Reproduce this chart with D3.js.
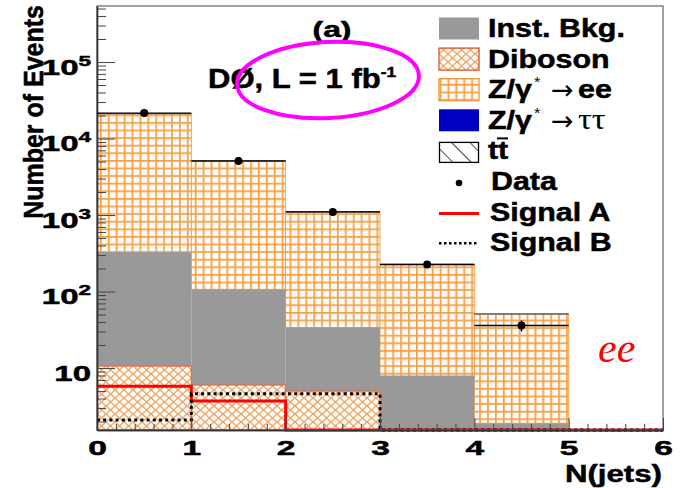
<!DOCTYPE html>
<html>
<head>
<meta charset="utf-8">
<script src="https://cdn.jsdelivr.net/npm/d3@7"></script>
<style>
  html, body { margin: 0; padding: 0; background: #fff; }
  svg { display: block; font-family: "Liberation Sans", Arial, Helvetica, sans-serif; }
</style>
</head>
<body>
<svg id="chart" width="685" height="488"></svg>
<script>
// ---- N(jets) distribution, ee channel ----
const binEdges    = [0, 1, 2, 3, 4, 5, 6];
const xTickLabels = ["0", "1", "2", "3", "4", "5", "6"];
const yMajorTicks = [10, 100, 1000, 10000, 100000];
const yTickExponents = [1, 2, 3, 4, 5];

// stacked backgrounds (events per bin), bottom to top
const diboson = [10.6, 6.0, 5.0, 0, 0, 0];
const instBkg = [317, 101, 29, 7.9, 1.9, 0];
const zTauTau = [0, 0, 0, 0, 0, 0];
const ttbar   = [0, 0, 0, 0, 0, 0];
const zee     = [20900, 4970, 1070, 221, 49, 0];

// observed events and signal hypotheses
const dataCounts = [21500, 5100, 1100, 225, 36, 0];
const signalA    = [5.8, 3.7, 0, 0, 0, 0];
const signalB    = [2.1, 4.6, 4.6, 0, 0, 0];

const legendLabels = ["Inst. Bkg.", "Diboson", "Z/γ", "Z/γ", "tt", "Data", "Signal A", "Signal B"];

// ---- geometry ----
const X0 = 97, X1 = 663, Y0 = 430, Y1 = 6;
const yMin = 1.55, yMax = 5.4e5;
const x = d3.scaleLinear().domain([0, 6]).range([X0, X1]);
const y = d3.scaleLog().domain([yMin, yMax]).range([Y0, Y1]).clamp(true);
const yv = v => y(v > 0 ? v : yMin);

const svg = d3.select("#chart");
const defs = svg.append("defs");

// orange grid fill for Z/γ* -> ee
const pg = defs.append("pattern").attr("id", "zeeGrid")
  .attr("patternUnits", "userSpaceOnUse").attr("width", 7.9).attr("height", 7.6)
  .attr("x", X0 + 3).attr("y", Y1 + 2);
pg.append("rect").attr("width", 7.9).attr("height", 7.6).attr("fill", "#fffaf1");
pg.append("rect").attr("width", 1.7).attr("height", 7.6).attr("fill", "#f2a04c");
pg.append("rect").attr("width", 7.9).attr("height", 1.7).attr("fill", "#f2a04c");

// cross-hatch fill for diboson
const pc = defs.append("pattern").attr("id", "dibosonHatch")
  .attr("patternUnits", "userSpaceOnUse").attr("width", 9).attr("height", 8)
  .attr("x", X0).attr("y", Y0);
pc.append("rect").attr("width", 9).attr("height", 8).attr("fill", "#fffdf9");
pc.append("path").attr("d", "M-1,-0.89L10,8.89M10,-0.89L-1,8.89")
  .attr("stroke", "#ef9f5c").attr("stroke-width", 1.3);

// single-direction hatch for ttbar
const pt = defs.append("pattern").attr("id", "ttHatch")
  .attr("patternUnits", "userSpaceOnUse").attr("width", 13).attr("height", 13)
  .attr("x", 439).attr("y", 4)
  .attr("patternTransform", "rotate(-45)");
pt.append("rect").attr("width", 13).attr("height", 13).attr("fill", "#fff");
pt.append("line").attr("x1", 0).attr("y1", 0).attr("x2", 0).attr("y2", 13)
  .attr("stroke", "#000").attr("stroke-width", 1.4);

defs.append("clipPath").attr("id", "plotClip").append("rect")
  .attr("x", X0).attr("y", Y1).attr("width", X1 - X0).attr("height", Y0 - Y1 + 3);

// ---- stacked histogram ----
const procs = [
  { key: "diboson", values: diboson, fill: "url(#dibosonHatch)", stroke: "#e9673f" },
  { key: "inst",    values: instBkg, fill: "#999999", stroke: "none" },
  { key: "ztt",     values: zTauTau, fill: "#0000c8", stroke: "none" },
  { key: "ttbar",   values: ttbar,   fill: "url(#ttHatch)", stroke: "#000" },
  { key: "zee",     values: zee,     fill: "url(#zeeGrid)", stroke: "#f09a40" }
];
const rows = binEdges.slice(0, -1).map((e, i) => {
  const r = { bin: i };
  procs.forEach(p => r[p.key] = p.values[i]);
  return r;
});
const stacked = d3.stack().keys(procs.map(p => p.key))(rows);

const gStack = svg.append("g").attr("clip-path", "url(#plotClip)");
// draw from the top layer down so lower outlines stay on top
stacked.slice().reverse().forEach(series => {
  const p = procs.find(q => q.key === series.key);
  gStack.append("g").selectAll("rect")
    .data(series.filter(d => d[1] > d[0]))
    .join("rect")
    .attr("x", d => x(binEdges[d.data.bin]))
    .attr("width", d => x(binEdges[d.data.bin + 1]) - x(binEdges[d.data.bin]))
    .attr("y", d => yv(d[1]))
    .attr("height", d => Math.max(0, yv(d[0]) - yv(d[1])))
    .attr("fill", p.fill)
    .attr("stroke", p.stroke)
    .attr("stroke-width", p.key === "diboson" ? 1.2 : 0.8);
});

// top edge of the summed prediction
const totals = rows.map(r => procs.reduce((s, p) => s + r[p.key], 0));
gStack.append("g").selectAll("line")
  .data(totals.map((t, i) => ({ t, i })).filter(d => d.t > 0))
  .join("line")
  .attr("x1", d => x(binEdges[d.i])).attr("x2", d => x(binEdges[d.i + 1]))
  .attr("y1", d => yv(d.t)).attr("y2", d => yv(d.t))
  .attr("stroke", "#6e5a66").attr("stroke-width", 1.3);

// ---- signal step lines ----
function stepPoints(vals) {
  const pts = [];
  vals.forEach((v, i) => { pts.push([binEdges[i], v]); pts.push([binEdges[i + 1], v]); });
  return pts;
}
const stepLine = d3.line().x(d => x(d[0])).y(d => yv(d[1]));
const gSig = svg.append("g").attr("clip-path", "url(#plotClip)");
gSig.append("path").attr("d", stepLine(stepPoints(signalA)))
  .attr("fill", "none").attr("stroke", "#ff0000").attr("stroke-width", 3);
gSig.append("path").attr("d", stepLine(stepPoints(signalB)))
  .attr("fill", "none").attr("stroke", "#000").attr("stroke-width", 3)
  .attr("stroke-dasharray", "3,3.2");

// ---- frame and axes ----
svg.append("rect").attr("x", X0).attr("y", Y1).attr("width", X1 - X0).attr("height", Y0 - Y1)
  .attr("fill", "none").attr("stroke", "#7a7a7a").attr("stroke-width", 1.4);

const xMinor = d3.range(0, 30).map(i => i * 0.2).filter(v => Math.abs(v - Math.round(v)) > 1e-6);
const gxMinor = svg.append("g").attr("transform", `translate(0,${Y0})`)
  .call(d3.axisBottom(x).tickValues(xMinor).tickSizeInner(-6).tickSizeOuter(0).tickFormat(""));
const gx = svg.append("g").attr("transform", `translate(0,${Y0})`)
  .call(d3.axisBottom(x).tickValues(d3.range(0, 7)).tickSizeInner(-12).tickSizeOuter(0)
    .tickFormat(i => xTickLabels[i]));
[gxMinor, gx].forEach(g => {
  g.select(".domain").attr("stroke", "#333").attr("stroke-width", 1.4);
  g.selectAll(".tick line").attr("stroke", "#444");
});
gx.selectAll(".tick text")
  .attr("y", null).attr("dy", null)
  .attr("transform", "translate(0,25) scale(1.6,1)")
  .attr("font-size", 21).attr("font-weight", "bold").attr("fill", "#000")
  .attr("stroke", "#000").attr("stroke-width", 0.5)
  .attr("font-family", "'Liberation Sans', Arial, sans-serif");

const yMinor = [];
for (let e = 0; e <= 5; e++) {
  for (let m = 2; m <= 9; m++) {
    const v = m * Math.pow(10, e);
    if (v > yMin && v < yMax) yMinor.push(v);
  }
}
const gyMinor = svg.append("g").attr("transform", `translate(${X0},0)`)
  .call(d3.axisLeft(y).tickValues(yMinor).tickSizeInner(-9).tickSizeOuter(0).tickFormat(""));
const gy = svg.append("g").attr("transform", `translate(${X0},0)`)
  .call(d3.axisLeft(y).tickValues(yMajorTicks).tickSizeInner(-18).tickSizeOuter(0).tickFormat(""));
[gyMinor, gy].forEach(g => {
  g.select(".domain").attr("stroke", "#333").attr("stroke-width", 1.4);
  g.selectAll(".tick line").attr("stroke", "#444");
});
gy.selectAll(".tick").each(function (v, i) {
  const t = d3.select(this).append("text")
    .attr("transform", "translate(-6,12) scale(1.5,1)")
    .attr("text-anchor", "end").attr("font-size", 22).attr("font-weight", "bold")
    .attr("fill", "#000").attr("stroke", "#000").attr("stroke-width", 0.5)
    .attr("font-family", "'Liberation Sans', Arial, sans-serif");
  t.append("tspan").text("10");
  if (yTickExponents[i] !== 1) {
    t.append("tspan").attr("dy", -9).attr("font-size", 15).text(yTickExponents[i]);
  }
});

// ---- data points ----
const gData = svg.append("g");
const pts = dataCounts.map((n, i) => ({ n, i })).filter(d => d.n > 0);
gData.selectAll("line.h").data(pts).join("line").attr("class", "h")
  .attr("x1", d => x(binEdges[d.i])).attr("x2", d => x(binEdges[d.i + 1]))
  .attr("y1", d => yv(d.n)).attr("y2", d => yv(d.n))
  .attr("stroke", "#000").attr("stroke-width", 1.4);
gData.selectAll("line.v").data(pts).join("line").attr("class", "v")
  .attr("x1", d => x(binEdges[d.i] + 0.5)).attr("x2", d => x(binEdges[d.i] + 0.5))
  .attr("y1", d => yv(d.n + Math.sqrt(d.n))).attr("y2", d => yv(d.n - Math.sqrt(d.n)))
  .attr("stroke", "#000").attr("stroke-width", 1.4);
gData.selectAll("circle").data(pts).join("circle")
  .attr("cx", d => x(binEdges[d.i] + 0.5)).attr("cy", d => yv(d.n))
  .attr("r", 4).attr("fill", "#000");

// ---- text helpers ----
function stxt(parent, px, py, sx, size, anchor, weight, family) {
  const bold = (weight || "bold") === "bold";
  return parent.append("text")
    .attr("transform", `translate(${px},${py}) scale(${sx},1)`)
    .attr("text-anchor", anchor || "start")
    .attr("font-size", size)
    .attr("font-weight", weight || "bold")
    .attr("font-family", family || "'Liberation Sans', Arial, sans-serif")
    .attr("fill", "#000")
    .attr("stroke", bold ? "#000" : "none")
    .attr("stroke-width", bold ? 0.5 : 0);
}

// axis titles
svg.append("text")
  .attr("transform", "translate(43,5) rotate(-90) scale(1,1.12)")
  .attr("text-anchor", "end").attr("font-size", 25).attr("font-weight", "bold")
  .attr("stroke", "#000").attr("stroke-width", 0.5)
  .text("Number of Events");
stxt(svg, 662, 482, 1.3, 24, "end").text("N(jets)");

// panel label and luminosity
stxt(svg, 332, 37, 1.45, 22, "middle").text("(a)");
const lum = stxt(svg, 208, 88, 1.15, 27, "start");
lum.append("tspan").text("DØ, L = 1 fb");
lum.append("tspan").attr("dy", -11).attr("font-size", 15).text("-1");

// highlight ring around the luminosity
svg.append("ellipse")
  .attr("cx", 328).attr("cy", 80).attr("rx", 91).attr("ry", 38)
  .attr("transform", "rotate(-3,328,80)")
  .attr("fill", "none").attr("stroke", "#ff00ff").attr("stroke-width", 4);

// channel tag
svg.append("text").attr("x", 598).attr("y", 362)
  .attr("font-family", "'Liberation Serif', 'DejaVu Serif', serif")
  .attr("font-style", "italic").attr("font-size", 42).attr("fill", "#ff0000")
  .text("ee");

// ---- legend ----
const gLeg = svg.append("g");
const LX = 439, LW = 40, TX = 488;
const base = i => 37 + i * 30.6;

function legBox(i, fill, stroke, sw) {
  gLeg.append("rect").attr("x", LX).attr("y", base(i) - 19.5).attr("width", LW).attr("height", 22)
    .attr("fill", fill).attr("stroke", stroke).attr("stroke-width", sw);
}
legBox(0, "#999999", "none", 0);
legBox(1, "url(#dibosonHatch)", "#e35a35", 1.4);
legBox(2, "url(#zeeGrid)", "#f09a40", 1.4);
legBox(3, "#0000c0", "none", 0);
gLeg.append("rect").attr("x", LX + 0.5).attr("y", base(4) - 17).attr("width", LW - 1).attr("height", 20)
  .attr("fill", "url(#ttHatch)").attr("stroke", "#000").attr("stroke-width", 1.3);
gLeg.append("circle").attr("cx", LX + LW / 2).attr("cy", base(5) - 7).attr("r", 3.3).attr("fill", "#000");
gLeg.append("line").attr("x1", LX).attr("x2", LX + LW).attr("y1", base(6) - 7).attr("y2", base(6) - 7)
  .attr("stroke", "#ff0000").attr("stroke-width", 3);
gLeg.append("line").attr("x1", LX).attr("x2", LX + LW).attr("y1", base(7) - 8).attr("y2", base(7) - 8)
  .attr("stroke", "#000").attr("stroke-width", 2.5).attr("stroke-dasharray", "2.5,2.5");

const SX = 1.17, FS = 26;
stxt(gLeg, TX, base(0), SX, FS).text(legendLabels[0]);
stxt(gLeg, TX, base(1), SX, FS).text(legendLabels[1]);
[2, 3].forEach(i => {
  stxt(gLeg, TX, base(i), SX, FS).text(legendLabels[i]);
  stxt(gLeg, 534, base(i) - 11, 1.1, 15, "start", "normal").text("*");
  stxt(gLeg, 551, base(i) + 1, 1.0, 27, "start", "normal", "'DejaVu Sans', sans-serif").text("→");
});
stxt(gLeg, 578, base(2), SX, FS).text("ee");
stxt(gLeg, 578, base(3), 1.15, 30, "start", "normal", "'Liberation Serif', serif").text("ττ");
stxt(gLeg, TX, base(4), SX, FS).text(legendLabels[4]);
gLeg.append("line").attr("x1", 497).attr("x2", 508).attr("y1", base(4) - 21).attr("y2", base(4) - 21)
  .attr("stroke", "#000").attr("stroke-width", 2);
stxt(gLeg, TX + 3, base(5), SX, FS).text(legendLabels[5]);
stxt(gLeg, TX + 2, base(6), SX, FS).text(legendLabels[6]);
stxt(gLeg, TX + 2, base(7), SX, FS).text(legendLabels[7]);
</script>
</body>
</html>
